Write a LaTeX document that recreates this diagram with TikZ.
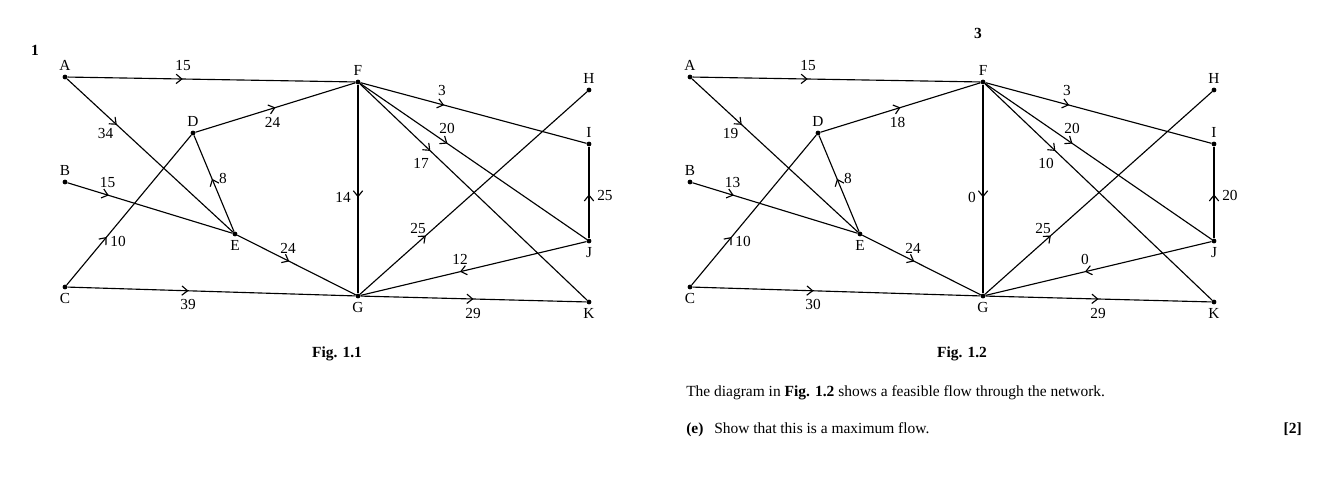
\documentclass[tikz,border=0pt]{standalone}
\usepackage{fontspec}
\setmainfont{Liberation Serif}
\usetikzlibrary{arrows.meta,decorations.markings}
\tikzset{
  dot/.style={circle,fill,inner sep=0pt,minimum size=3.6pt},
  edge/.style={line width=0.85pt},
  flowat/.style={postaction={decorate,decoration={markings,mark=at position #1 with {\arrow{Straight Barb[length=4.3pt,width=7pt,line width=0.85pt]}}}}},
  lbl/.style={font=\fontsize{11.5}{13}\selectfont,inner sep=0pt},
  txt/.style={font=\fontsize{11.6}{13}\selectfont,inner sep=0pt},
  vlab/.style={lbl,label distance=2.5pt},
}
\newcommand\netdraw[2]{%
\begin{scope}[shift={(#2,0)}]
  \node[dot,label={[vlab]above:A}] (#1A) at (65,77) {};
  \node[dot,label={[vlab]above:B}] (#1B) at (65,182) {};
  \node[dot,label={[vlab]below:C}] (#1C) at (65,287) {};
  \node[dot,label={[vlab]above:D}] (#1D) at (193,133) {};
  \node[dot,label={[vlab]below:E}] (#1E) at (235,234) {};
  \node[dot,label={[vlab]above:F}] (#1F) at (358,82) {};
  \node[dot,label={[vlab]below:G}] (#1G) at (358,296) {};
  \node[dot,label={[vlab]above:H}] (#1H) at (589,90) {};
  \node[dot,label={[vlab]above:I}] (#1I) at (589,144) {};
  \node[dot,label={[vlab]below:J}] (#1J) at (589,241) {};
  \node[dot,label={[vlab]below:K}] (#1K) at (589,302) {};
  \draw[edge,flowat=0.40] (#1A) -- (#1F);
  \draw[edge,flowat=0.30] (#1A) -- (#1E);
  \draw[edge,flowat=0.50] (#1D) -- (#1F);
  \draw[edge,flowat=0.25] (#1B) -- (#1E);
  \draw[edge,flowat=0.55] (#1E) -- (#1D);
  \draw[edge,flowat=0.32] (#1C) -- (#1D);
  \draw[edge,flowat=0.44] (#1E) -- (#1G);
  \draw[edge,flowat=0.42] (#1C) -- (#1G);
  \draw[edge,flowat=0.54] (#1F) -- (#1G);
  \draw[edge,flowat=0.29] (#1G) -- (#1H);
  \draw[edge,flowat=0.56] (#1J) -- (#1G);
  \draw[edge,flowat=0.50] (#1G) -- (#1K);
  \draw[edge,flowat=0.48] (#1J) -- (#1I);
  \draw[edge,flowat=0.37] (#1F) -- (#1I);
  \draw[edge,flowat=0.385] (#1F) -- (#1J);
  \draw[edge,flowat=0.31] (#1F) -- (#1K);
  \node[lbl] (#1lAF) at (183,66) {\vAF};
  \node[lbl] (#1lAE) at (105.5,133) {\vAE};
  \node[lbl] (#1lDF) at (272.5,122.5) {\vDF};
  \node[lbl] (#1lBE) at (107.5,182.5) {\vBE};
  \node[lbl] (#1lED) at (223,178) {\vED};
  \node[lbl] (#1lCD) at (118,241.5) {\vCD};
  \node[lbl] (#1lEG) at (288,248) {\vEG};
  \node[lbl] (#1lCG) at (188,304) {\vCG};
  \node[lbl,anchor=east] (#1lFG) at (351,197) {\vFG};
  \node[lbl] (#1lGH) at (418,228) {\vGH};
  \node[lbl] (#1lJG) at (460,259) {\vJG};
  \node[lbl] (#1lGK) at (473,313) {\vGK};
  \node[lbl,anchor=west] (#1lJI) at (597,195) {\vJI};
  \node[lbl] (#1lFI) at (442,90) {\vFI};
  \node[lbl] (#1lFJ) at (447,128) {\vFJ};
  \node[lbl] (#1lFK) at (421,163) {\vFK};
\end{scope}}
\begin{document}
\begin{tikzpicture}[x=0.75pt,y=-0.75pt]
\useasboundingbox (0,0) rectangle (1334,483);
% Fig 1.1
\def\vAF{15}\def\vAE{34}\def\vDF{24}\def\vBE{15}\def\vED{8}\def\vCD{10}
\def\vEG{24}\def\vCG{39}\def\vFG{14}\def\vGH{25}\def\vJG{12}\def\vGK{29}
\def\vJI{25}\def\vFI{3}\def\vFJ{20}\def\vFK{17}
\netdraw{p}{0}
% Fig 1.2
\def\vAF{15}\def\vAE{19}\def\vDF{18}\def\vBE{13}\def\vED{8}\def\vCD{10}
\def\vEG{24}\def\vCG{30}\def\vFG{0}\def\vGH{25}\def\vJG{0}\def\vGK{29}
\def\vJI{20}\def\vFI{3}\def\vFJ{20}\def\vFK{10}
\netdraw{q}{625}
\node[txt] (qnum) at (35,50) {\textbf{1}};
\node[txt] (pagenum) at (978,33) {\textbf{3}};
\node[txt] (cap1) at (337,354) {\textbf{Fig. 1.1}};
\node[txt] (cap2) at (962,354) {\textbf{Fig. 1.2}};
\node[txt,anchor=base west] (s1) at (686,396) {The diagram in \textbf{Fig. 1.2} shows a feasible flow through the network.};
\node[txt,anchor=base west] (s2) at (686,433) {\textbf{(e)}};
\node[txt,anchor=base west] (s3) at (714,433) {Show that this is a maximum flow.};
\node[txt,anchor=base east] (s4) at (1302,433) {\textbf{[2]}};
\end{tikzpicture}
\end{document}
